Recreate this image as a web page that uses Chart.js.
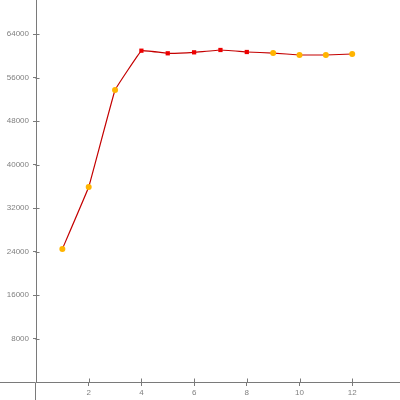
<!DOCTYPE html>
<html>
<head>
<meta charset="utf-8">
<script src="https://cdn.jsdelivr.net/npm/chart.js@4/dist/chart.umd.min.js"></script>
<style>
  html, body { margin: 0; padding: 0; background: #fff; }
  #wrap { width: 400px; height: 400px; }
</style>
</head>
<body>
<div id="wrap"><canvas id="myChart"></canvas></div>
<script>
const xValues = [1, 2, 3, 4, 5, 6, 7, 8, 9, 10, 11, 12];
const yValues = [24460, 35860, 53700, 60930, 60450, 60630, 61060, 60690, 60500, 60140, 60140, 60320];
const redPoints = [4, 5, 6, 7, 8];
const xTicks = [2, 4, 6, 8, 10, 12];
const yTicks = [8000, 16000, 24000, 32000, 40000, 48000, 56000, 64000];

const axisColor = '#7a7a7a';
const textColor = '#808080';

const pointColors = xValues.map(x => redPoints.includes(x) ? '#ee0000' : '#ffb400');
const pointStyles = xValues.map(x => redPoints.includes(x) ? 'rect' : 'circle');

const data = {
    datasets: [{
        data: xValues.map((x, i) => ({x: x, y: yValues[i]})),
        borderColor: '#c40000',
        borderWidth: 1.2,
        tension: 0.05,
        pointRadius: 3,
        pointBackgroundColor: pointColors,
        pointBorderColor: pointColors,
        pointBorderWidth: 0,
        pointStyle: pointStyles,
    }]
};

// axis lines run past the origin, and ticks cross the axis
const axisExtras = {
    id: 'axisExtras',
    beforeDatasetsDraw(chart) {
        const ctx = chart.ctx;
        const sx = chart.scales.x, sy = chart.scales.y;
        const x0 = Math.round(sx.getPixelForValue(0)) - 0.5;
        const y0 = Math.round(sy.getPixelForValue(0)) + 0.5;
        ctx.save();
        ctx.strokeStyle = axisColor;
        ctx.lineWidth = 1;
        ctx.beginPath();
        ctx.moveTo(0, y0);
        ctx.lineTo(x0, y0);
        ctx.moveTo(x0, y0);
        ctx.lineTo(x0, chart.height);
        xTicks.forEach(v => {
            const px = Math.round(sx.getPixelForValue(v)) + 0.5;
            ctx.moveTo(px, y0 - 4);
            ctx.lineTo(px, y0);
        });
        yTicks.forEach(v => {
            const py = Math.round(sy.getPixelForValue(v)) + 0.5;
            ctx.moveTo(x0, py);
            ctx.lineTo(x0 + 4, py);
        });
        ctx.stroke();
        ctx.restore();
    }
};

const config = {
    type: 'line',
    data: data,
    plugins: [axisExtras],
    options: {
        responsive: true,
        maintainAspectRatio: false,
        animation: false,
        layout: { padding: 0, autoPadding: false },
        plugins: {
            legend: { display: false },
            tooltip: { enabled: false }
        },
        scales: {
            x: {
                type: 'linear',
                min: 0,
                max: 13.814,
                position: 'bottom',
                afterBuildTicks: (scale) => { scale.ticks = xTicks.map(v => ({value: v})); },
                afterFit: (scale) => {
                    scale.height = 18;
                    scale.paddingLeft = 0;
                    scale.paddingRight = 0;
                },
                border: { color: axisColor, width: 1 },
                grid: { drawOnChartArea: false, drawTicks: true, tickLength: 4, color: axisColor },
                ticks: {
                    color: textColor,
                    padding: 2,
                    maxRotation: 0,
                    font: { family: 'Liberation Sans', size: 8 },
                    callback: (v) => String(v)
                }
            },
            y: {
                type: 'linear',
                min: 0,
                max: 70253,
                position: 'left',
                afterBuildTicks: (scale) => { scale.ticks = yTicks.map(v => ({value: v})); },
                afterFit: (scale) => {
                    scale.width = 36;
                    scale.paddingTop = 0;
                    scale.paddingBottom = 0;
                },
                border: { color: axisColor, width: 1 },
                grid: { drawOnChartArea: false, drawTicks: true, tickLength: 3, color: axisColor },
                ticks: {
                    color: textColor,
                    padding: 4,
                    font: { family: 'Liberation Sans', size: 8 },
                    callback: (v) => String(v)
                }
            }
        }
    }
};

const myChart = new Chart(
    document.getElementById('myChart'),
    config
);
</script>
</body>
</html>
